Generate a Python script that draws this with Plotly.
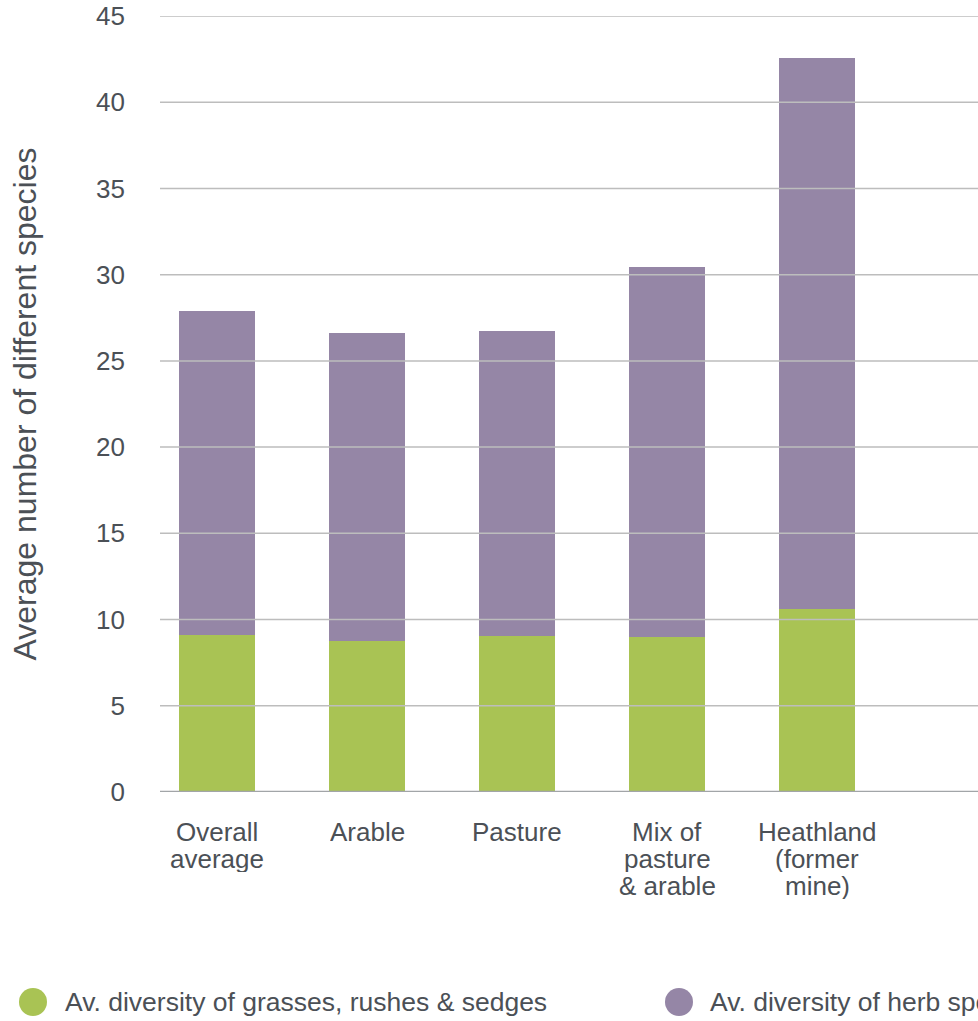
import plotly.graph_objects as go

# Habitat categories (line breaks as printed under each bar)
categories = ["Overall\naverage", "Arable", "Pasture", "Mix of\npasture\n& arable", "Heathland\n(former\nmine)"]

# Average number of species per group
grasses = [9.1, 8.75, 9.05, 9.0, 10.6]
herbs = [18.8, 17.85, 17.7, 21.45, 31.95]

series_names = ["Av. diversity of grasses, rushes & sedges", "Av. diversity of herb species"]
series_colors = ["#a9c354", "#9586a6"]

y_ticks = [0, 5, 10, 15, 20, 25, 30, 35, 40, 45]

TEXT = "#4b5056"
FONT = "Liberation Sans, Arial, Helvetica, sans-serif"

W, H = 978, 1021
L, R, T, B = 160, 0, 16, 229
plot_w = W - L - R
plot_h = H - T - B


def px_to_paper_x(px):
    return (px - L) / plot_w


def px_to_paper_y(py):
    return (H - B - py) / plot_h


x_idx = list(range(len(categories)))

fig = go.Figure()
for name, vals, col in zip(series_names, [grasses, herbs], series_colors):
    fig.add_trace(go.Bar(
        x=x_idx, y=vals, name=name, marker=dict(color=col, line=dict(width=0)),
        width=0.51, showlegend=False,
    ))

shapes = []
# horizontal grid drawn over the bars
for t in y_ticks:
    if t == 0:
        shapes.append(dict(type="line", xref="paper", yref="y", x0=0, x1=1, y0=t, y1=t,
                           line=dict(color="#a2a5a8", width=2.5), layer="above"))
    else:
        shapes.append(dict(type="line", xref="paper", yref="y", x0=0, x1=1, y0=t, y1=t,
                           line=dict(color="#bdbdbd", width=1.5), layer="above"))

annotations = []
# category labels, tightly stacked lines
for i, cat in enumerate(categories):
    for j, line in enumerate(cat.split("\n")):
        annotations.append(dict(
            x=i, xref="x", y=0, yref="paper", yshift=-(39 + 27 * j),
            text=line, showarrow=False, xanchor="center", yanchor="middle",
            height=27, valign="middle",
            font=dict(size=26, color=TEXT, family=FONT),
        ))

# legend: large dots with labels along the bottom
legend_pos = [(33, 63), (679, 708)]
leg_y = px_to_paper_y(1002)
for (cx, tx), name, col in zip(legend_pos, series_names, series_colors):
    shapes.append(dict(
        type="circle", xref="paper", yref="paper",
        xsizemode="pixel", ysizemode="pixel",
        xanchor=px_to_paper_x(cx), yanchor=leg_y,
        x0=-14, x1=14, y0=-14, y1=14,
        fillcolor=col, line=dict(width=0), layer="above",
    ))
    annotations.append(dict(
        x=px_to_paper_x(tx), xref="paper", y=leg_y, yref="paper",
        text=name, showarrow=False, xanchor="left", yanchor="middle",
        font=dict(size=26.5, color=TEXT, family=FONT),
    ))

fig.update_layout(
    barmode="stack",
    width=W, height=H,
    margin=dict(l=L, r=R, t=T, b=B, autoexpand=False),
    paper_bgcolor="white", plot_bgcolor="white",
    font=dict(family=FONT, color=TEXT, size=26),
    shapes=shapes,
    annotations=annotations,
    bargap=0,
)
fig.update_xaxes(
    range=[-0.38, -0.38 + plot_w / 150], showticklabels=False, showgrid=False,
    zeroline=False, showline=False, ticks="", fixedrange=True,
)
fig.update_yaxes(
    range=[0, 45], tickvals=y_ticks, showgrid=False, zeroline=False, showline=False,
    ticks="", ticklabelstandoff=34,
    tickfont=dict(size=26, color=TEXT, family=FONT),
    title=dict(text="Average number of different species", standoff=49,
               font=dict(size=32, color=TEXT, family=FONT)),
    automargin=False,
)

fig.write_html("out.html")
